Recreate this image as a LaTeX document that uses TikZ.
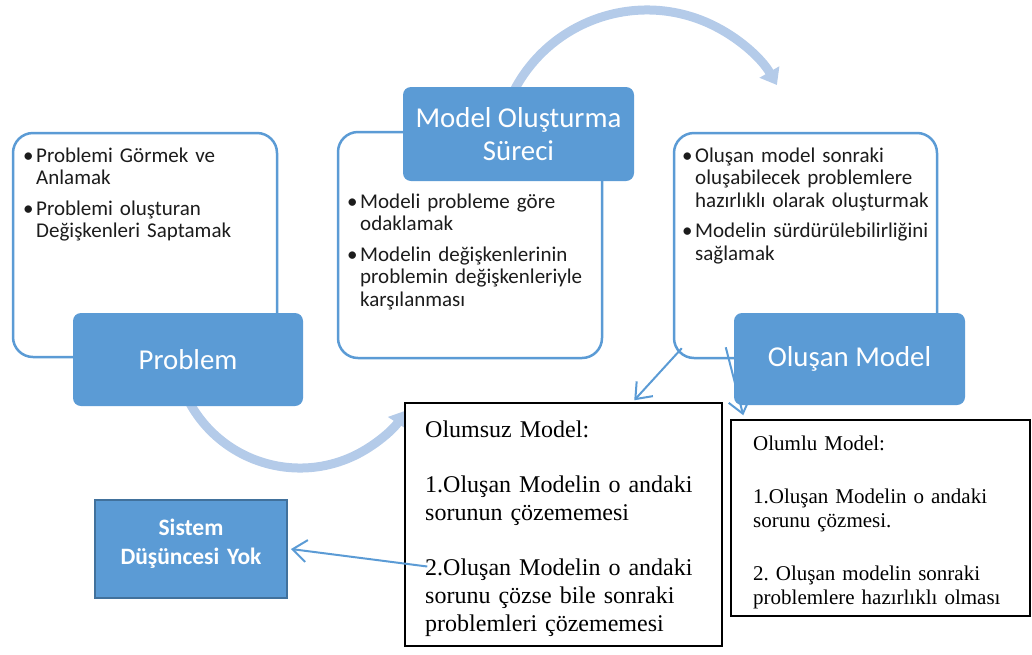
\documentclass[tikz,border=0pt]{standalone}
\usepackage{fontspec}
\setmainfont{Liberation Serif}
\newfontfamily\calibri{Carlito}
\usetikzlibrary{arrows.meta,calc}
\definecolor{accent}{HTML}{5B9BD5}
\definecolor{accentdark}{HTML}{41719C}
\definecolor{flow}{RGB}{180,203,233}
\definecolor{ink}{HTML}{1C1C1C}
\frenchspacing
\tikzset{
  panel/.style={draw=accent, line width=2.5pt, fill=white, rounded corners=20pt, inner sep=0pt},
  header/.style={fill=accent, rounded corners=8pt, text=white, align=center, inner sep=0pt,
    font=\calibri\fontsize{28.8}{33}\selectfont},
  bullets/.style={anchor=base west, align=left, text width=260pt, text=ink, inner sep=0pt,
    font=\calibri\fontsize{21}{22.5}\selectfont},
  flowarc/.style={draw=flow, line width=9pt, -{Triangle[width=22pt,length=15pt]}},
  note/.style={draw=black, line width=1.5pt, fill=white, inner sep=0pt},
  notetext/.style={anchor=base west, align=left, text width=300pt, inner sep=0pt},
  sysbox/.style={draw=accentdark, line width=2pt, fill=accent, inner sep=0pt},
  link/.style={draw=accent, line width=2pt, -{Straight Barb[length=14pt,width=22pt]}},
}
\newcommand{\bul}{\makebox[13pt][l]{•}}
\newcommand{\hang}{\hspace*{13pt}}
\begin{document}
\begin{tikzpicture}[x=1pt,y=-1pt]
\useasboundingbox (0,0) rectangle (1032,654);

% cycle arrows behind the blocks
\draw[flowarc] (647,160) ++(205:150) arc[start angle=205, end angle=330, radius=150];
\draw[flowarc] (300,342) ++(152:126) arc[start angle=152, end angle=33, radius=126];

% three stages
\node[panel, minimum width=264pt, minimum height=224pt] (lpanel) at (145,245) {};
\node[panel, minimum width=264pt, minimum height=226pt] (mpanel) at (470,245) {};
\node[panel, minimum width=263pt, minimum height=225pt] (rpanel) at (805.5,245.5) {};

\node[header, minimum width=230pt, minimum height=93pt] (problem) at (188,359.5) {Problem};
\node[header, minimum width=231pt, minimum height=94pt] (model) at (518.5,134) {Model Oluşturma\\Süreci};
\node[header, minimum width=231pt, minimum height=92pt] (result) at (849.5,359) {Oluşan Model};

\node[bullets] (ltext) at (23,162) {\bul Problemi Görmek ve\\\hang Anlamak\\[8pt]\bul Problemi oluşturan\\\hang Değişkenleri Saptamak};
\node[bullets] (mtext) at (347,208) {\bul Modeli probleme göre\\\hang odaklamak\\[8pt]\bul Modelin değişkenlerinin\\\hang problemin değişkenleriyle\\\hang karşılanması};
\node[bullets] (rtext) at (682,162) {\bul Oluşan model sonraki\\\hang oluşabilecek problemlere\\\hang hazırlıklı olarak oluşturmak\\[8pt]\bul Modelin sürdürülebilirliğini\\\hang sağlamak};

% outcome notes
\node[note, minimum width=317pt, minimum height=243pt] (neg) at (563.5,524.5) {};
\node[notetext, font=\fontsize{24}{28}\selectfont] (negtext) at (425,437) {Olumsuz Model:\\[27pt]1.Oluşan Modelin o andaki\\sorunun çözememesi\\[27pt]2.Oluşan Modelin o andaki\\sorunu çözse bile sonraki\\problemleri çözememesi};

\node[note, minimum width=299pt, minimum height=196pt] (pos) at (880.5,518) {};
\node[notetext, font=\fontsize{21}{24}\selectfont] (postext) at (753,450) {Olumlu Model:\\[29pt]1.Oluşan Modelin o andaki\\sorunu çözmesi.\\[29pt]2. Oluşan modelin sonraki\\problemlere hazırlıklı olması};

\node[sysbox, minimum width=192pt, minimum height=98pt] (sys) at (191,549) {};
\node[anchor=base, align=center, text width=190pt, inner sep=0pt, text=white,
  font=\calibri\bfseries\fontsize{23.5}{29}\selectfont] (systext) at (191,535) {Sistem\\Düşüncesi Yok};

% links
\coordinate (l1s) at ($(rpanel.south west)+(9,-11)$);
\coordinate (l1e) at ($(neg.north west)+(230,-2)$);
\coordinate (l2s) at ($(rpanel.south west)+(53,-12)$);
\coordinate (l2e) at ($(pos.north west)+(13,-4)$);
\coordinate (l3s) at ($(neg.west)+(23,42)$);
\coordinate (l3e) at ($(sys.east)+(3,0)$);
\draw[link] (l1s) -- (l1e);
\draw[link] (l2s) -- (l2e);
\draw[link] (l3s) -- (l3e);
\end{tikzpicture}
\end{document}
